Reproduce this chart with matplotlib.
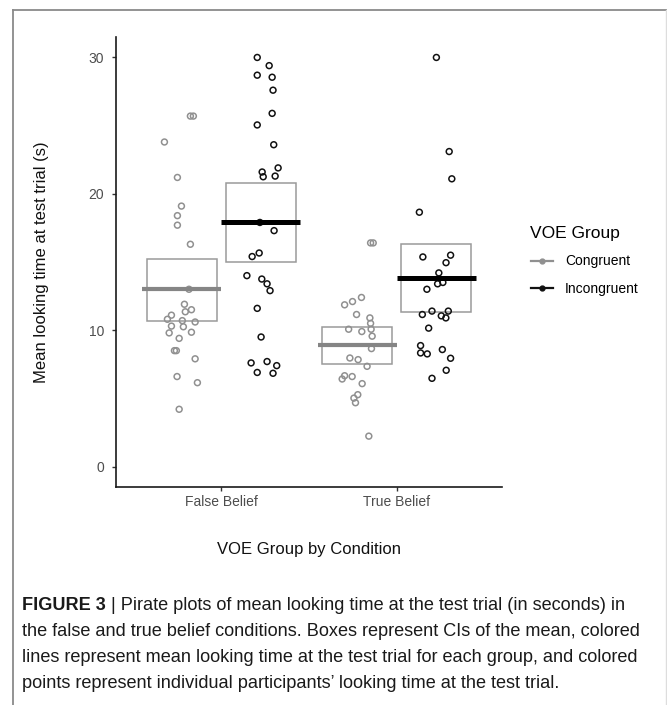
import matplotlib
matplotlib.use("Agg")
import matplotlib.pyplot as plt
from matplotlib.lines import Line2D
from matplotlib import font_manager
import numpy as np

# ---------------- data ----------------
conditions = ["False Belief", "True Belief"]
groups = ["Congruent", "Incongruent"]

fb_cong = [25.7, 25.7, 23.8, 21.2, 19.1, 18.4, 17.7, 16.3, 13.0, 11.9, 11.1, 11.35, 11.5,
           10.8, 10.7, 10.6, 10.3, 10.25, 9.8, 9.85, 9.4, 8.5, 8.5, 7.9, 6.6, 6.15, 4.2]
fb_cong_jit = [0.049, 0.066, -0.099, -0.025, -0.002, -0.025, -0.025, 0.049, 0.041, 0.015, -0.059,
               0.020, 0.055, -0.082, 0.003, 0.076, -0.059, 0.009, -0.072, 0.055, -0.015, -0.042,
               -0.031, 0.076, -0.027, 0.089, -0.015]

fb_inc = [30.0, 29.4, 28.7, 28.55, 27.6, 25.9, 25.05, 23.6, 21.9, 21.6, 21.25, 21.3, 17.9, 17.3,
          15.66, 15.4, 14.0, 13.75, 13.4, 12.9, 11.6, 9.5, 7.6, 7.7, 7.4, 6.9, 6.84]
fb_inc_jit = [-0.020, 0.048, -0.020, 0.065, 0.070, 0.065, -0.020, 0.074, 0.099, 0.008, 0.014,
              0.082, -0.005, 0.076, -0.009, -0.049, -0.079, 0.006, 0.036, 0.053, -0.020, 0.002,
              -0.055, 0.036, 0.091, -0.020, 0.070]

tb_cong = [16.4, 16.4, 12.4, 12.1, 11.86, 11.15, 10.9, 10.5, 10.07, 9.9, 10.07, 9.56, 8.65, 7.96,
           7.84, 7.35, 6.66, 6.6, 6.42, 6.08, 5.27, 5.02, 4.68, 2.23]
tb_cong_jit = [0.076, 0.091, 0.024, -0.027, -0.072, -0.004, 0.072, 0.076, -0.049, 0.026, 0.079,
               0.085, 0.081, -0.042, 0.005, 0.056, -0.072, -0.029, -0.086, 0.028, 0.003, -0.019,
               -0.010, 0.066]

tb_inc = [30.0, 23.1, 21.1, 18.65, 15.37, 15.5, 14.95, 14.2, 13.4, 13.5, 13.0, 11.15, 11.4, 11.05,
          11.4, 10.9, 10.15, 8.87, 8.33, 8.26, 8.58, 7.94, 7.06, 6.47]
tb_inc_jit = [0.001, 0.074, 0.089, -0.096, -0.076, 0.082, 0.056, 0.015, 0.008, 0.038, -0.053,
              -0.079, -0.024, 0.029, 0.069, 0.055, -0.043, -0.089, -0.089, -0.051, 0.035, 0.082,
              0.057, -0.024]

means = {("False Belief", "Congruent"): 13.0, ("False Belief", "Incongruent"): 17.9,
         ("True Belief", "Congruent"): 8.9, ("True Belief", "Incongruent"): 13.8}
ci_low = {("False Belief", "Congruent"): 10.7, ("False Belief", "Incongruent"): 15.0,
          ("True Belief", "Congruent"): 7.55, ("True Belief", "Incongruent"): 11.3}
ci_high = {("False Belief", "Congruent"): 15.2, ("False Belief", "Incongruent"): 20.8,
           ("True Belief", "Congruent"): 10.25, ("True Belief", "Incongruent"): 16.3}

points = {("False Belief", "Congruent"): (fb_cong, fb_cong_jit),
          ("False Belief", "Incongruent"): (fb_inc, fb_inc_jit),
          ("True Belief", "Congruent"): (tb_cong, tb_cong_jit),
          ("True Belief", "Incongruent"): (tb_inc, tb_inc_jit)}

yticks = [0, 10, 20, 30]

caption_bold = "FIGURE 3"
caption_lines = [
    "| Pirate plots of mean looking time at the test trial (in seconds) in",
    "the false and true belief conditions. Boxes represent CIs of the mean, colored",
    "lines represent mean looking time at the test trial for each group, and colored",
    "points represent individual participants\u2019 looking time at the test trial.",
]

# ---------------- style ----------------
available = {f.name for f in font_manager.fontManager.ttflist}
sans = "Liberation Sans" if "Liberation Sans" in available else "DejaVu Sans"
narrow = "Liberation Sans Narrow" if "Liberation Sans Narrow" in available else sans
plt.rcParams["font.family"] = [sans, "DejaVu Sans"]

colors = {"Congruent": "#909090", "Incongruent": "#111111"}
mean_colors = {"Congruent": "#858585", "Incongruent": "#000000"}
mean_lw = {"Congruent": 3.0, "Incongruent": 3.6}
box_color = "#9a9a9a"
dodge = 0.225
box_w = 0.40
line_w = 0.45

W, H = 667, 705
fig = plt.figure(figsize=(W / 100, H / 100), dpi=100)
ax = fig.add_axes([116 / W, 1 - 487 / H, 386 / W, 450 / H])

for ci, cond in enumerate(conditions):
    xc = ci + 1
    for gi, grp in enumerate(groups):
        xg = xc + (-dodge if gi == 0 else dodge)
        vals, jit = points[(cond, grp)]
        xs = xg + np.array(jit)
        ax.scatter(xs, vals, s=18, facecolors="none", edgecolors=colors[grp],
                   linewidths=1.1, zorder=3)
        lo, hi = ci_low[(cond, grp)], ci_high[(cond, grp)]
        ax.add_patch(plt.Rectangle((xg - box_w / 2, lo), box_w, hi - lo, fill=False,
                                   edgecolor=box_color, lw=1.1, zorder=2))
        ax.plot([xg - line_w / 2, xg + line_w / 2], [means[(cond, grp)]] * 2,
                color=mean_colors[grp], lw=mean_lw[grp], solid_capstyle="butt", zorder=4)

ax.set_xlim(0.4, 2.6)
ax.set_ylim(-1.5, 31.5)
ax.set_xticks([1, 2])
ax.set_xticklabels(conditions)
ax.set_yticks(yticks)
ax.set_yticklabels([str(t) for t in yticks])
for s in ["top", "right"]:
    ax.spines[s].set_visible(False)
for s in ["left", "bottom"]:
    ax.spines[s].set_linewidth(1.2)
    ax.spines[s].set_color("#1a1a1a")
ax.tick_params(axis="both", length=3, width=1.0, color="#333333", labelsize=10,
               labelcolor="#4d4d4d")
ax.tick_params(axis="y", pad=5.5)
ax.tick_params(axis="x", pad=3)

ax.set_ylabel("Mean looking time at test trial (s)", fontsize=12, color="#111111")
ax.yaxis.set_label_coords(-0.174, 0.5)
ax.set_xlabel("VOE Group by Condition", fontsize=12, color="#111111")
ax.xaxis.set_label_coords(0.5, -0.122)

handles = [Line2D([], [], color=colors[g], lw=1.6, marker="o", ms=3.5,
                  mfc=colors[g], mec=colors[g]) for g in groups]
leg = ax.legend(handles, groups, title="VOE Group", loc="upper left",
                bbox_to_anchor=(518 / W, 1 - 213 / H), bbox_transform=fig.transFigure,
                frameon=False, fontsize=10, title_fontsize=12.5, handlelength=1.6,
                handletextpad=0.9, labelspacing=1.0, alignment="left")

# ---------------- frame ----------------
frame_kw = dict(transform=fig.transFigure, color="#8a8a8a", lw=1.3)
fig.add_artist(Line2D([12.5 / W, 1], [1 - 9.5 / H] * 2, **frame_kw))
fig.add_artist(Line2D([12.5 / W] * 2, [0, 1 - 9.5 / H], **frame_kw))
fig.add_artist(Line2D([665.5 / W] * 2, [0, 1 - 9.5 / H], transform=fig.transFigure,
                      color="#dddddd", lw=1.0))

# ---------------- caption ----------------
fig.canvas.draw()
renderer = fig.canvas.get_renderer()
probe = fig.text(0, 0, caption_lines[1], fontfamily=narrow, fontsize=12)
wpx = probe.get_window_extent(renderer).width
probe.remove()
cap_fs = 12 * 621 / wpx

x0 = 22 / W
line_y = [606, 632, 658, 684]
tb = fig.text(x0, 1 - line_y[0] / H, caption_bold, fontfamily=narrow, fontsize=cap_fs,
              fontweight="bold", va="center", ha="left", color="#1a1a1a")
bw = tb.get_window_extent(renderer).width
fig.text((22 + bw + 5) / W, 1 - line_y[0] / H, caption_lines[0], fontfamily=narrow,
         fontsize=cap_fs, va="center", ha="left", color="#1a1a1a")
for ln, yy in zip(caption_lines[1:], line_y[1:]):
    fig.text(x0, 1 - yy / H, ln, fontfamily=narrow, fontsize=cap_fs, va="center",
             ha="left", color="#1a1a1a")

fig.savefig("out.png", dpi=100)
